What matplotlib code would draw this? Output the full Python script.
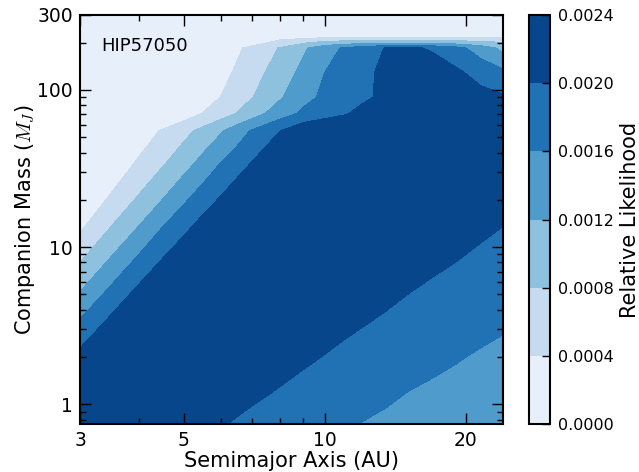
import numpy as np
import matplotlib
matplotlib.use("Agg")
import matplotlib.pyplot as plt
from matplotlib.ticker import NullFormatter, FormatStrFormatter

plt.rcParams['mathtext.fontset'] = 'cm'

# grid nodes: semimajor axis (AU) and companion mass (M_J)
sma = np.array([3, 3.5, 4, 4.5, 5, 5.5, 6, 6.5, 7, 8, 9, 10, 11, 12, 13.5, 15, 17, 19, 21.5, 24])
mass = np.array([0.75, 1.2, 2, 3.2, 5, 8, 13, 21, 34, 55, 71, 90, 130, 185, 200, 215, 235, 300])

# relative likelihood in units of 1e-4 (one row per mass value, bottom to top)
like_rows = [
    [24, 23.6, 22.7, 22.0, 21.3, 20.7, 20.2, 19.7, 19.2, 18.4, 17.6, 17.0, 16.4, 15.9, 15.3, 14.8, 14.2, 13.6, 13.0, 12.5],
    [24, 24, 23.9, 23.2, 22.6, 22.0, 21.5, 21.0, 20.6, 19.8, 19.1, 18.5, 17.9, 17.4, 16.7, 16.0, 15.4, 14.9, 14.3, 13.8],
    [21.2, 24, 24, 24, 23.8, 23.3, 22.8, 22.3, 21.9, 21.2, 20.5, 19.9, 19.3, 18.9, 18.2, 17.6, 16.9, 16.3, 15.6, 15.1],
    [16.9, 21.4, 24, 24, 24, 24, 23.9, 23.4, 23.0, 22.3, 21.7, 21.1, 20.6, 20.1, 19.5, 18.9, 18.2, 17.6, 17.0, 16.4],
    [12.4, 17.4, 21.3, 24, 24, 24, 24, 24, 24, 23.3, 22.7, 22.1, 21.6, 21.2, 20.6, 20.0, 19.4, 18.8, 18.2, 17.6],
    [8.0, 12.8, 17.1, 20.5, 23.4, 24, 24, 24, 24, 24, 23.7, 23.2, 22.7, 22.2, 21.7, 21.1, 20.5, 20.0, 19.3, 18.8],
    [3.6, 8.4, 12.4, 16.3, 19.2, 21.9, 24, 24, 24, 24, 24, 24, 23.7, 23.3, 22.7, 22.2, 21.6, 21.1, 20.5, 19.9],
    [0.1, 4.4, 8.2, 11.6, 15.0, 17.8, 20.1, 22.3, 24, 24, 24, 24, 24, 24, 23.8, 23.3, 22.7, 22.2, 21.6, 21.0],
    [0, 1.2, 4.6, 7.6, 10.5, 13.4, 16.2, 18.3, 20.3, 23.8, 24, 24, 24, 24, 24, 24, 24, 23.5, 22.9, 22.4],
    [0, 0, 1.6, 4.4, 6.8, 9.2, 11.6, 14.1, 16.4, 19.9, 22.9, 24, 24, 24, 24, 24, 24, 24, 23.5, 23.0],
    [0, 0, 0, 0, 1.9, 4.2, 6.2, 8.2, 10.2, 14.0, 16.8, 18.3, 19.6, 21.0, 22.5, 23.5, 24, 23.5, 22.5, 21.5],
    [0, 0, 0, 0, 0, 1.9, 4.1, 6.0, 7.9, 11.5, 14.8, 16.8, 18.1, 19.3, 20.8, 21.5, 22.0, 22.0, 21.2, 20.5],
    [0, 0, 0, 0, 0, 0.7, 2.7, 4.6, 6.4, 9.8, 13.1, 16.0, 17.6, 19.0, 20.9, 21.5, 21.8, 20.7, 18.6, 16.7],
    [0, 0, 0, 0, 0, 0, 1.5, 3.4, 5.1, 8.2, 11.4, 14.3, 16.5, 18.0, 20.2, 20.6, 19.6, 17.5, 14.0, 11.0],
    [0, 0, 0, 0, 0, 0, 0, 1.0, 2.5, 5.2, 7.5, 9.5, 10.2, 10.6, 10.8, 10.8, 10.6, 10.2, 9.6, 8.2],
    [0, 0, 0, 0, 0, 0, 0, 0, 0.5, 3.0, 3.4, 4.0, 4.2, 4.3, 4.4, 4.4, 4.4, 4.3, 4.3, 4.2],
    [0] * 20,
    [0] * 20,
]

level_steps = [0, 4, 8, 12, 16, 20, 24]

like = np.array(like_rows) * 1e-4
levels = np.array(level_steps) * 1e-4
A, M = np.meshgrid(sma, mass)

fig = plt.figure(figsize=(6.39, 4.72), dpi=100)
ax = fig.add_axes([80 / 639, 1 - 424 / 472, 423 / 639, 409 / 472])
cax = fig.add_axes([529 / 639, 1 - 424 / 472, 21 / 639, 409 / 472])

ax.set_xscale('log')
ax.set_yscale('log')

# contour in log10 space so the bands are straight on the log axes
cs = ax.contourf(np.log10(A), np.log10(M), like, levels=levels, cmap='Blues',
                 transform=ax.transLimits + ax.transAxes)

ax.set_xlim(3, 24)
ax.set_ylim(0.75, 300)

ax.set_xticks([3, 5, 10, 20])
ax.set_xticklabels(['3', '5', '10', '20'])
ax.xaxis.set_minor_formatter(NullFormatter())
ax.set_yticks([1, 10, 100, 300])
ax.set_yticklabels(['1', '10', '100', '300'])
ax.yaxis.set_minor_formatter(NullFormatter())

ax.tick_params(which='both', direction='in', top=True, right=True, labelsize=13.5, pad=5)
ax.tick_params(which='major', length=8, width=1)
ax.tick_params(which='minor', length=4.5, width=1)
for sp in ax.spines.values():
    sp.set_linewidth(1.5)

ax.set_xlabel('Semimajor Axis (AU)', fontsize=15, labelpad=1)
ax.set_ylabel('Companion Mass ($M_J$)', fontsize=15, labelpad=0)
ax.text(0.051, 0.913, 'HIP57050', transform=ax.transAxes, fontsize=13, va='baseline', ha='left')

cbar = fig.colorbar(cs, cax=cax)
cbar.set_ticks(levels)
cbar.ax.yaxis.set_major_formatter(FormatStrFormatter('%.4f'))
cbar.ax.tick_params(direction='in', length=6, width=1, labelsize=11.5, pad=6)
cbar.outline.set_linewidth(1.5)
cbar.set_label('Relative Likelihood', fontsize=15, labelpad=4)

fig.savefig('out.png', dpi=100)
